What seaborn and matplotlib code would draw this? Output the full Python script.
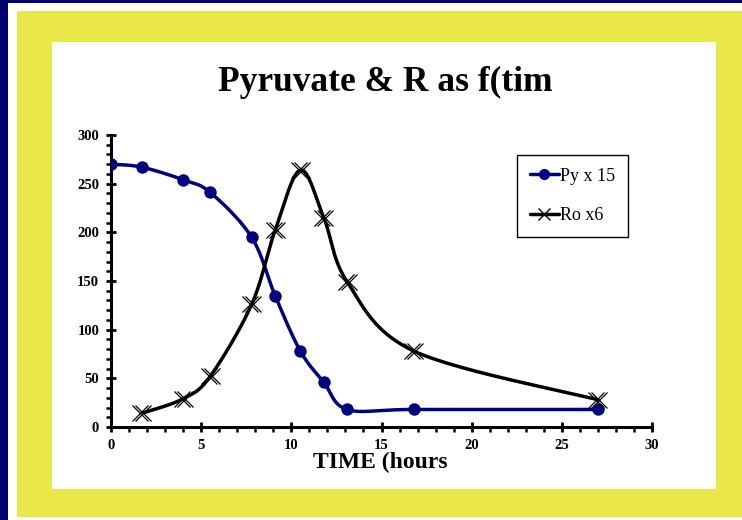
import numpy as np
import pandas as pd
import matplotlib
matplotlib.use("Agg")
import matplotlib.pyplot as plt
from matplotlib.patches import Rectangle
from matplotlib.lines import Line2D
from matplotlib.ticker import MultipleLocator
from matplotlib.transforms import ScaledTranslation
import seaborn as sns

# ---- data ----
time_py = [0, 1.7, 4.0, 5.5, 7.8, 9.1, 10.5, 11.8, 13.1, 16.8, 27.0]
py_x15 = [270, 267, 254, 241, 195, 135, 78, 46, 18, 18, 18]
time_ro = [1.7, 4.0, 5.5, 7.8, 9.1, 10.5, 11.8, 13.1, 16.8, 27.0]
ro_x6 = [14, 29, 52, 126, 202, 264, 215, 149, 78, 28]
x_ticks = [0, 5, 10, 15, 20, 25, 30]
y_ticks = [0, 50, 100, 150, 200, 250, 300]
title = "Pyruvate & R as f(tim"
xlabel = "TIME (hours"
labels = ["Py x 15", "Ro x6"]

NAVY = "#00006E"
YELLOW = "#E8E848"
BLUE = "#000080"

sns.set_theme(style="white")
plt.rcParams['font.family'] = ['Liberation Serif', 'DejaVu Serif']
plt.rcParams['text.color'] = 'black'
plt.rcParams['xtick.color'] = 'black'
plt.rcParams['ytick.color'] = 'black'
plt.rcParams['axes.labelcolor'] = 'black'

W, H = 742, 520
fig = plt.figure(figsize=(W / 100, H / 100), dpi=100)
fig.patch.set_facecolor(NAVY)

def prect(x0, y0, x1, y1, color):
    fig.patches.append(Rectangle((x0 / W, 1 - y1 / H), (x1 - x0) / W, (y1 - y0) / H,
                                 transform=fig.transFigure, facecolor=color,
                                 edgecolor='none', zorder=-10))

prect(8, 3, 742, 520, "white")
prect(17, 11, 742, 517, YELLOW)
prect(52, 42, 716, 489, "white")

ax = fig.add_axes([111 / W, 1 - 427 / H, (652 - 111) / W, (427 - 135) / H])
ax.set_facecolor("none")


def smooth(x, y, n=30, t=0.5):
    # cardinal spline through the points (Excel-like smoothed line)
    x = np.asarray(x, float); y = np.asarray(y, float)
    P = np.column_stack([x, y])
    P = np.vstack([P[0], P, P[-1]])
    out = []
    for i in range(1, len(P) - 2):
        p0, p1, p2, p3 = P[i - 1], P[i], P[i + 1], P[i + 2]
        m1 = t * (p2 - p0); m2 = t * (p3 - p1)
        s = np.linspace(0, 1, n)[:, None]
        h00 = 2 * s**3 - 3 * s**2 + 1; h10 = s**3 - 2 * s**2 + s
        h01 = -2 * s**3 + 3 * s**2; h11 = s**3 - s**2
        out.append(h00 * p1 + h10 * m1 + h01 * p2 + h11 * m2)
    out = np.vstack(out)
    return out[:, 0], out[:, 1]

sx, sy = smooth(time_py, py_x15)
ax.plot(sx, sy, color=BLUE, lw=2.5, zorder=3)
rx, ry = smooth(time_ro, ro_x6)
ax.plot(rx, ry, color="black", lw=2.5, zorder=3)

df_py = pd.DataFrame({"t": time_py, "v": py_x15})
sns.scatterplot(data=df_py, x="t", y="v", ax=ax, color=BLUE, s=80, marker="o",
                edgecolor=BLUE, linewidth=0, zorder=4, legend=False)
# double-struck X markers
for off in (-1.1, 1.1):
    tr = ax.transData + ScaledTranslation(off / 72, 0, fig.dpi_scale_trans)
    ax.plot(time_ro, ro_x6, linestyle="none", marker="x", transform=tr,
            markersize=11, markeredgewidth=0.9, color="black", zorder=4)

ax.set_xlim(0, 30)
ax.set_ylim(0, 300)
ax.set_xticks(x_ticks)
ax.set_yticks(y_ticks)
ax.xaxis.set_minor_locator(MultipleLocator(1))
ax.yaxis.set_minor_locator(MultipleLocator(10))
ax.tick_params(which="major", direction="inout", length=7, width=2, color="black",
               labelsize=10.5, pad=5, labelcolor="black")
ax.tick_params(which="minor", direction="out", length=3.5, width=1.8, color="black")
ax.tick_params(axis="x", which="both", bottom=True)
ax.tick_params(axis="y", which="both", left=True)
for lbl in ax.get_xticklabels() + ax.get_yticklabels():
    lbl.set_fontweight("bold")
for s in ("top", "right"):
    ax.spines[s].set_visible(False)
for s in ("left", "bottom"):
    ax.spines[s].set_color("black")
    ax.spines[s].set_linewidth(2.2)
ax.set_xlabel("")
ax.set_ylabel("")
ax.grid(False)

fig.text(385 / W, 1 - 82 / H, title, ha="center", va="center",
         fontsize=25.5, fontweight="bold", color="black")
fig.text(380 / W, 1 - 462 / H, xlabel, ha="center", va="center",
         fontsize=17, fontweight="bold", color="black")

handles = [
    Line2D([0], [0], color=BLUE, lw=2.5, marker="o", markersize=7),
    Line2D([0], [0], color="black", lw=2.5, marker="x", markersize=8, markeredgewidth=1),
]
leg = ax.legend(handles, labels, loc="upper left",
                bbox_to_anchor=((517 - 111) / (652 - 111), (427 - 155) / (427 - 135)),
                frameon=True, fancybox=False, framealpha=1, edgecolor="black",
                fontsize=13, handlelength=1.6, handletextpad=0.1,
                labelspacing=1.25, borderpad=0.7, borderaxespad=0, labelcolor="black")
leg.get_frame().set_linewidth(1.0)

fig.savefig("out.png", dpi=100, facecolor=fig.get_facecolor())
